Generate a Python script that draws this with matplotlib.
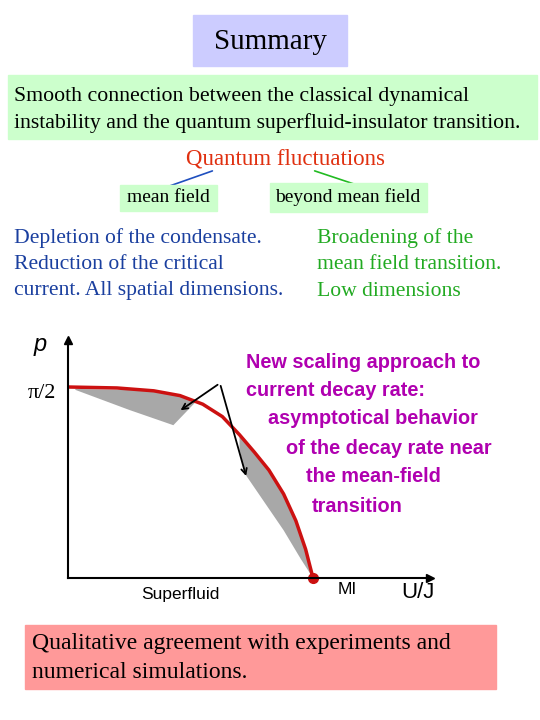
import numpy as np
import matplotlib.pyplot as plt
from matplotlib.patches import Rectangle, Polygon

# curve data (U/J normalised so MI = 1, p normalised so pi/2 = 1)
curve_x = [0.0, 0.2, 0.35, 0.457, 0.55, 0.63, 0.70, 0.76, 0.82, 0.88, 0.93, 0.97, 1.0]
curve_y = [1.0, 0.995, 0.98, 0.955, 0.91, 0.845, 0.75, 0.66, 0.565, 0.44, 0.30, 0.15, 0.0]
shade1_x = [0.03, 0.30, 0.45, 0.52, 0.43, 0.25, 0.03]
shade1_y = [0.99, 0.983, 0.958, 0.92, 0.80, 0.88, 0.985]
shade2_lo_x = [0.70, 0.72, 0.80, 0.88, 0.95, 1.0]
shade2_lo_y = [0.68, 0.55, 0.40, 0.25, 0.10, 0.0]

serif = 'Liberation Serif'
sans = 'Liberation Sans'
W, H = 540, 720
fig = plt.figure(figsize=(W / 100, H / 100), dpi=100)
bg = fig.add_axes([0, 0, 1, 1])
bg.set_xlim(0, W)
bg.set_ylim(H, 0)
bg.axis('off')

def box(x0, y0, x1, y1, color):
    bg.add_patch(Rectangle((x0, y0), x1 - x0, y1 - y0, color=color, zorder=2))

box(193, 15, 347, 66, '#ccccff')
bg.text(270, 42, 'Summary', family=serif, fontsize=21, ha='center', va='center', zorder=3)
box(8, 75, 537, 139, '#ccffcc')
bg.text(14, 97, 'Smooth connection between the classical dynamical', family=serif, fontsize=15.7, va='center', zorder=3)
bg.text(14, 123, 'instability and the quantum superfluid-insulator transition.', family=serif, fontsize=15.7, va='center', zorder=3)
bg.text(285, 159, 'Quantum fluctuations', family=serif, fontsize=16.5, color='#e03010', ha='center', va='center')
box(120, 185, 217, 211, '#ccffcc')
bg.text(168, 198, 'mean field', family=serif, fontsize=14, ha='center', va='center', zorder=3)
box(270, 183, 427, 212, '#ccffcc')
bg.text(348, 197, 'beyond mean field', family=serif, fontsize=14, ha='center', va='center', zorder=3)
bg.annotate('', xy=(127, 201), xytext=(215, 170),
            arrowprops=dict(arrowstyle='->', color='#1f4fbf', lw=1.2), zorder=1)
bg.annotate('', xy=(405, 201), xytext=(312, 170),
            arrowprops=dict(arrowstyle='->', color='#22bb22', lw=1.2), zorder=1)
for i, s in enumerate(['Depletion of the condensate.', 'Reduction of the critical',
                       'current. All spatial dimensions.']):
    bg.text(14, 238 + 26.5 * i, s, family=serif, fontsize=15.6, color='#1a3f9f', va='center')
for i, s in enumerate(['Broadening of the', 'mean field transition.', 'Low dimensions']):
    bg.text(317, 238 + 26.5 * i, s, family=serif, fontsize=15.6, color='#22aa22', va='center')

magenta = '#b000b0'
lines = [(246, 362, 'New scaling approach to'), (246, 391, 'current decay rate:'),
         (268, 419, 'asymptotical behavior'), (286, 448, 'of the decay rate near'),
         (306, 477, 'the mean-field'), (312, 506, 'transition')]
for x, y, s in lines:
    bg.text(x, y, s, family=sans, fontsize=14.3, color=magenta, weight='bold', va='center')

box(25, 625, 496, 689, '#ff9999')
bg.text(32, 643, 'Qualitative agreement with experiments and', family=serif, fontsize=17, va='center', zorder=3)
bg.text(32, 672, 'numerical simulations.', family=serif, fontsize=17, va='center', zorder=3)

# plot axes
x0, x1, ytop, ybot = 68, 430, 340, 578
ax = fig.add_axes([x0 / W, (H - ybot) / H, (x1 - x0) / W, (ybot - ytop) / H])
ax.set_xlim(0, (x1 - x0) / 245)
ax.set_ylim(0, (ybot - ytop) / 191)
ax.patch.set_alpha(0)
for s in ['top', 'right']:
    ax.spines[s].set_visible(False)
for s in ['left', 'bottom']:
    ax.spines[s].set_linewidth(1.5)
ax.set_xticks([])
ax.set_yticks([])
ax.plot(1, 0, '>', color='k', transform=ax.get_yaxis_transform(), clip_on=False, ms=6)
ax.plot(0, 1, '^', color='k', transform=ax.get_xaxis_transform(), clip_on=False, ms=6)

ax.add_patch(Polygon(np.column_stack([shade1_x, shade1_y]), color='#a8a8a8', lw=0))
cx = np.array(curve_x)
cy = np.array(curve_y)
up = cx >= 0.70
poly = np.vstack([np.column_stack([cx[up], cy[up]]),
                  np.column_stack([shade2_lo_x[::-1], shade2_lo_y[::-1]])])
ax.add_patch(Polygon(poly, color='#a8a8a8', lw=0))
ax.plot(curve_x, curve_y, color='#cc1111', lw=2.5)
ax.plot(1, 0, 'o', color='#cc1111', ms=7, clip_on=False)
ax.annotate('', xy=(0.45, 0.87), xytext=(0.62, 1.02),
            arrowprops=dict(arrowstyle='->', color='k', lw=1.3))
ax.annotate('', xy=(0.73, 0.52), xytext=(0.62, 1.02),
            arrowprops=dict(arrowstyle='->', color='k', lw=1.3))

bg.text(40, 345, 'p', family=sans, fontsize=17, style='italic', va='center', ha='center')
bg.text(42, 393, 'π/2', family=serif, fontsize=16, va='center', ha='center')
bg.text(180, 594, 'Superfluid', family=sans, fontsize=12.5, va='center', ha='center')
bg.text(347, 589, 'MI', family=sans, fontsize=12.5, va='center', ha='center')
bg.text(418, 593, 'U/J', family=sans, fontsize=16, va='center', ha='center')

fig.savefig('out.png', dpi=100)
